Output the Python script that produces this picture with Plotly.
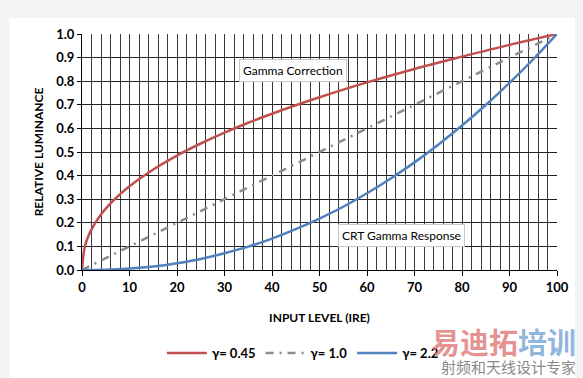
import plotly.graph_objects as go

# Input level (IRE)
x_red = [0, 0.5, 1, 2, 4, 6, 8, 10, 15, 20, 25, 30, 35, 40, 45, 50, 60, 70, 80, 90, 100]
y_red = [0, 0.09, 0.126, 0.172, 0.235, 0.282, 0.321, 0.355, 0.426, 0.485, 0.536, 0.582, 0.624,
         0.662, 0.698, 0.732, 0.795, 0.852, 0.904, 0.954, 1.0]

x_grey = [0, 100]
y_grey = [0, 1.0]

x_blue = [0, 5, 10, 15, 20, 25, 30, 35, 40, 45, 50, 55, 60, 65, 70, 75, 80, 85, 90, 95, 100]
y_blue = [0, 0.0014, 0.0063, 0.015, 0.029, 0.047, 0.071, 0.099, 0.133, 0.173, 0.218, 0.268,
          0.325, 0.388, 0.456, 0.531, 0.612, 0.699, 0.793, 0.893, 1.0]

names = ["γ= 0.45", "γ= 1.0", "γ= 2.2"]
x_ticks = [0, 10, 20, 30, 40, 50, 60, 70, 80, 90, 100]
y_ticks = [0.0, 0.1, 0.2, 0.3, 0.4, 0.5, 0.6, 0.7, 0.8, 0.9, 1.0]

FONT = "Lato"

fig = go.Figure()
fig.add_trace(go.Scatter(x=x_red, y=y_red, mode="lines", name=names[0],
                         line=dict(color="#c0504d", width=2.5, shape="spline")))
fig.add_trace(go.Scatter(x=x_grey, y=y_grey, mode="lines", name=names[1],
                         line=dict(color="#8c8c8c", width=2.5, dash="8px,6px,2px,6px")))
fig.add_trace(go.Scatter(x=x_blue, y=y_blue, mode="lines", name=names[2],
                         line=dict(color="#4f81bd", width=2.5, shape="spline")))

fig.update_layout(
    width=575, height=370,
    margin=dict(l=74, r=26, t=26, b=108, autoexpand=False),
    paper_bgcolor="#f6f3f3",
    plot_bgcolor="white",
    font=dict(family=FONT, color="black", size=12),
    showlegend=True,
    legend=dict(orientation="h", x=0.465, xanchor="center", y=-0.352, yanchor="middle",
                bgcolor="rgba(0,0,0,0)", font=dict(family=FONT, size=13, weight="bold"),
                itemwidth=40, tracegroupgap=0),
    shapes=[dict(type="rect", xref="paper", yref="paper", x0=-0.152, x1=1.1, y0=-0.47, y1=1.068,
                 fillcolor="white", line=dict(width=0), layer="below")],
)

fig.update_xaxes(range=[0, 100], tickvals=x_ticks, ticktext=[str(v) for v in x_ticks],
                 showgrid=True, gridcolor="#333333", gridwidth=1,
                 minor=dict(dtick=2, tick0=0, showgrid=True, gridcolor="#3a3a3a", gridwidth=1, ticks=""),
                 showline=True, linecolor="black", linewidth=1,
                 ticks="outside", ticklen=5, tickcolor="black",
                 tickfont=dict(family=FONT, size=13, weight="bold"),
                 title=dict(text="INPUT LEVEL (IRE)", font=dict(family=FONT, size=12, weight="bold"), standoff=20),
                 zeroline=False, automargin=False)
fig.update_yaxes(range=[0, 1.0], tickvals=y_ticks, ticktext=[f"{v:.1f}" for v in y_ticks],
                 showgrid=True, gridcolor="#222222", gridwidth=1,
                 showline=True, linecolor="black", linewidth=1,
                 ticks="outside", ticklen=4, tickcolor="black",
                 tickfont=dict(family=FONT, size=13, weight="bold"),
                 title=dict(text="RELATIVE LUMINANCE", font=dict(family=FONT, size=12, weight="bold"), standoff=10),
                 zeroline=False, automargin=False)

fig.add_annotation(x=44.4, y=0.847, xref="x", yref="y", text="Gamma Correction", showarrow=False,
                   font=dict(family=FONT, size=12, color="black"), bgcolor="white",
                   bordercolor="#c8c8c8", borderwidth=1, borderpad=3)
fig.add_annotation(x=67.2, y=0.148, xref="x", yref="y", text="CRT Gamma Response", showarrow=False,
                   font=dict(family=FONT, size=12, color="black"), bgcolor="white",
                   bordercolor="#c8c8c8", borderwidth=1, borderpad=3)

# watermark
fig.add_annotation(x=1.045, y=-0.30, xref="paper", yref="paper", xanchor="right", yanchor="middle",
                   text="<span style='color:rgba(220,110,110,0.75)'>易迪拓</span><span style='color:rgba(110,160,210,0.75)'>培训</span>",
                   showarrow=False, font=dict(family="Noto Sans CJK SC", size=29, weight="bold"))
fig.add_annotation(x=1.045, y=-0.408, xref="paper", yref="paper", xanchor="right", yanchor="middle",
                   text="射频和天线设计专家", showarrow=False,
                   font=dict(family="Noto Sans CJK SC", size=15, color="#8a8a8a"))

fig.write_html("out.html", post_script="document.body.style.background='#f6f3f3';")
